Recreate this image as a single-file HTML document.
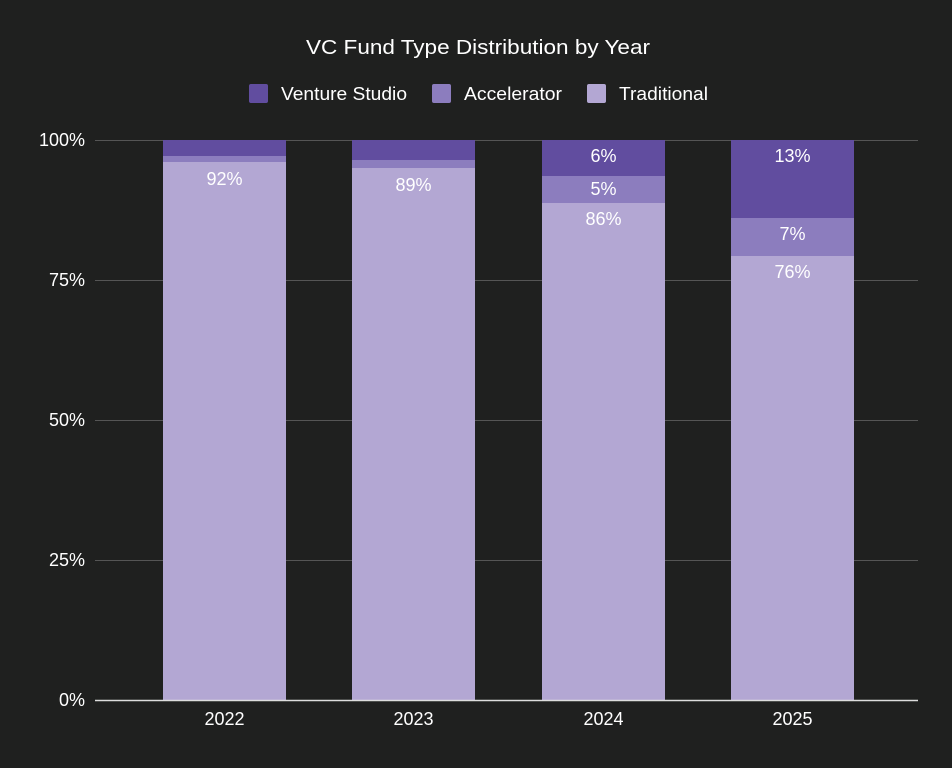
<!DOCTYPE html>
<html><head><style>
html,body{margin:0;padding:0;background:#1f201f;}
svg{display:block;font-family:"Liberation Sans",Arial,sans-serif;}
</style></head><body>
<svg width="952" height="768" viewBox="0 0 952 768">
<rect width="952" height="768" fill="#1f201f"/>
<text x="478" y="54" fill="#fff" font-size="20" text-anchor="middle" textLength="344" lengthAdjust="spacingAndGlyphs">VC Fund Type Distribution by Year</text>
<rect x="249" y="84" width="19" height="19" rx="2" fill="#614d9f"/>
<text x="281" y="100" fill="#fff" font-size="18" textLength="126" lengthAdjust="spacingAndGlyphs">Venture Studio</text>
<rect x="432" y="84" width="19" height="19" rx="2" fill="#8c7dbe"/>
<text x="464" y="100" fill="#fff" font-size="18" textLength="98" lengthAdjust="spacingAndGlyphs">Accelerator</text>
<rect x="587" y="84" width="19" height="19" rx="2" fill="#b3a7d3"/>
<text x="619" y="100" fill="#fff" font-size="18" textLength="89" lengthAdjust="spacingAndGlyphs">Traditional</text>
<g stroke="#555" stroke-width="1">
<line x1="95" y1="140.5" x2="918" y2="140.5"/>
<line x1="95" y1="280.5" x2="918" y2="280.5"/>
<line x1="95" y1="420.5" x2="918" y2="420.5"/>
<line x1="95" y1="560.5" x2="918" y2="560.5"/>
</g>
<g fill="#fff" font-size="18" text-anchor="end">
<text x="85" y="146">100%</text>
<text x="85" y="286">75%</text>
<text x="85" y="426">50%</text>
<text x="85" y="566">25%</text>
<text x="85" y="706">0%</text>
</g>
<rect x="163" y="140" width="123" height="16" fill="#614d9f"/>
<rect x="163" y="156" width="123" height="6" fill="#8c7dbe"/>
<rect x="163" y="162" width="123" height="538" fill="#b3a7d3"/>
<rect x="352" y="140" width="123" height="20" fill="#614d9f"/>
<rect x="352" y="160" width="123" height="8" fill="#8c7dbe"/>
<rect x="352" y="168" width="123" height="532" fill="#b3a7d3"/>
<rect x="542" y="140" width="123" height="36" fill="#614d9f"/>
<rect x="542" y="176" width="123" height="27" fill="#8c7dbe"/>
<rect x="542" y="203" width="123" height="497" fill="#b3a7d3"/>
<rect x="731" y="140" width="123" height="78" fill="#614d9f"/>
<rect x="731" y="218" width="123" height="38" fill="#8c7dbe"/>
<rect x="731" y="256" width="123" height="444" fill="#b3a7d3"/>
<g fill="#fff" font-size="18" text-anchor="middle">
<text x="224.5" y="185">92%</text>
<text x="413.5" y="191">89%</text>
<text x="603.5" y="162">6%</text>
<text x="603.5" y="195">5%</text>
<text x="603.5" y="225">86%</text>
<text x="792.5" y="162">13%</text>
<text x="792.5" y="240">7%</text>
<text x="792.5" y="278">76%</text>
</g>
<line x1="95" y1="700.5" x2="918" y2="700.5" stroke="#ddd" stroke-width="1.5"/>
<g fill="#fff" font-size="18" text-anchor="middle">
<text x="224.5" y="725">2022</text>
<text x="413.5" y="725">2023</text>
<text x="603.5" y="725">2024</text>
<text x="792.5" y="725">2025</text>
</g>
</svg>
</body></html>
